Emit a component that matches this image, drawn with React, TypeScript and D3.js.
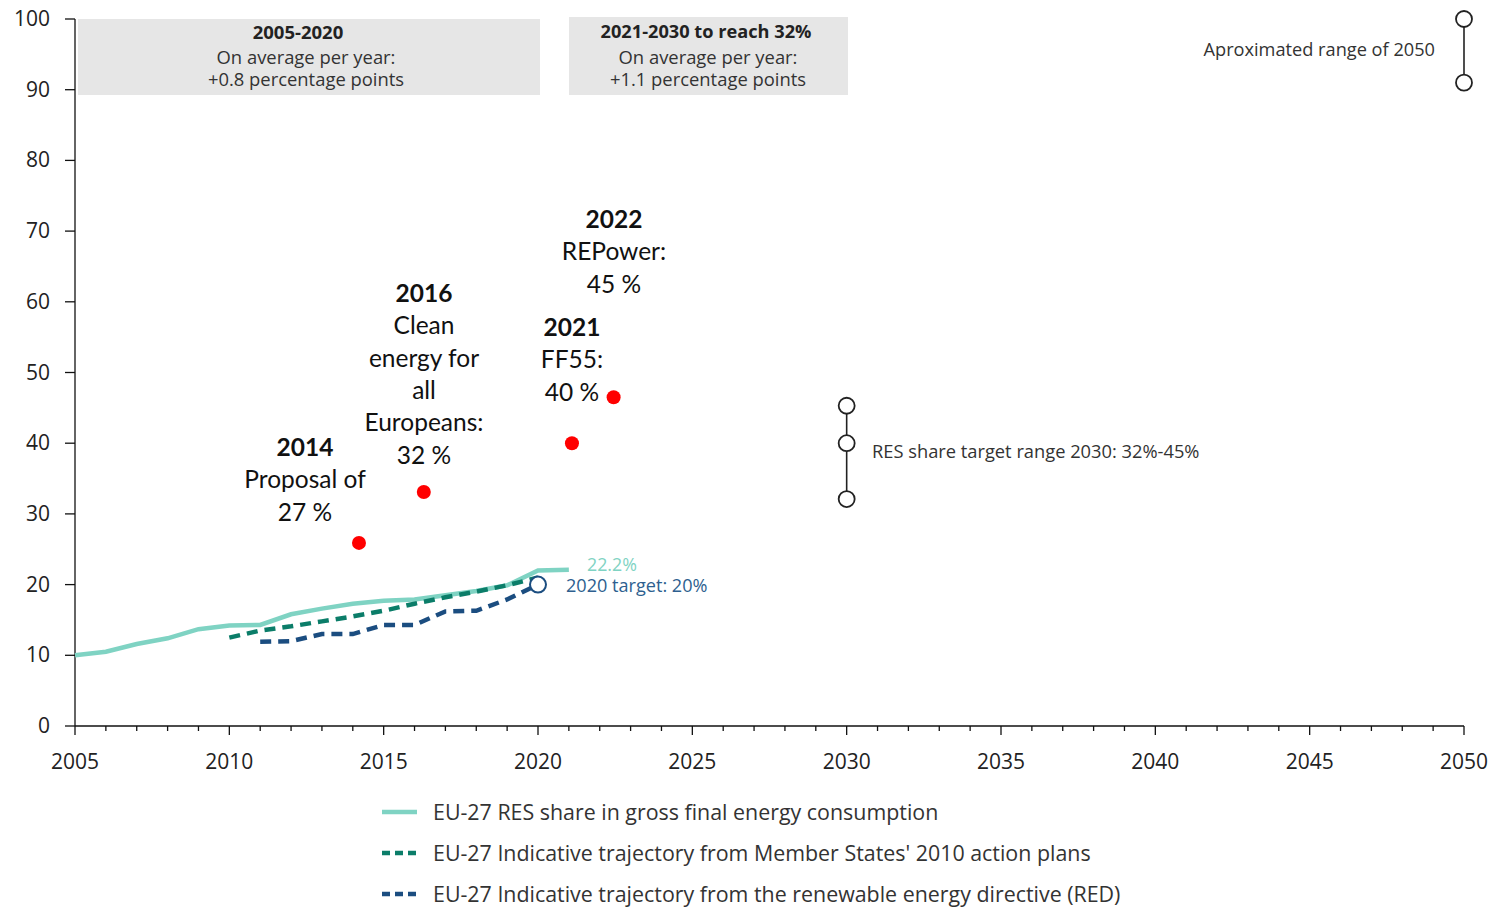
import React from "react";
import * as d3 from "d3";

const resYears = [2005, 2006, 2007, 2008, 2009, 2010, 2011, 2012, 2013, 2014, 2015, 2016, 2017, 2018, 2019, 2020, 2021];
const resShare = [10.0, 10.5, 11.6, 12.4, 13.7, 14.2, 14.3, 15.8, 16.6, 17.3, 17.7, 17.9, 18.5, 19.1, 19.9, 22.0, 22.1];

const nreapYears = [2010, 2011, 2012, 2013, 2014, 2015, 2016, 2017, 2018, 2019, 2020];
const nreapShare = [12.5, 13.5, 14.1, 14.8, 15.5, 16.3, 17.3, 18.2, 19.0, 19.9, 21.0];

const redYears = [2011, 2012, 2013, 2014, 2015, 2016, 2017, 2018, 2019, 2020];
const redShare = [11.9, 12.0, 13.0, 13.0, 14.3, 14.3, 16.2, 16.3, 17.9, 20.0];

const proposals = [
  { year: 2014.2, value: 25.9, lines: ["2014", "Proposal of", "27 %"] },
  { year: 2016.3, value: 33.1, lines: ["2016", "Clean", "energy for", "all", "Europeans:", "32 %"] },
  { year: 2021.1, value: 40.0, lines: ["2021", "FF55:", "40 %"] },
  { year: 2022.45, value: 46.5, lines: ["2022", "REPower:", "45 %"] },
];

const range2030 = [45.3, 40.0, 32.1];
const range2050 = [100, 91];
const target2020 = 20;

const yTicks = [0, 10, 20, 30, 40, 50, 60, 70, 80, 90, 100];
const xMajor = [2005, 2010, 2015, 2020, 2025, 2030, 2035, 2040, 2045, 2050];

const legendItems = [
  { label: "EU-27 RES share in gross final energy consumption", kind: "res" },
  { label: "EU-27 Indicative trajectory from Member States' 2010 action plans", kind: "nreap" },
  { label: "EU-27 Indicative trajectory from the renewable energy directive (RED)", kind: "red" },
];

const C_RES = "#7fd3c3";
const C_NREAP = "#0b7d69";
const C_RED = "#1b4d80";
const C_DOT = "#ff0000";
const C_TEXT = "#222";
const C_GRAY = "#333";

export default function App() {
  const x = d3.scaleLinear().domain([2005, 2050]).range([75, 1464]);
  const y = d3.scaleLinear().domain([0, 100]).range([726, 19]);
  const line = d3.line<[number, number]>().x((d) => x(d[0])).y((d) => y(d[1]));

  const resPath = line(resYears.map((yr, i) => [yr, resShare[i]]))!;
  const nreapPath = line(nreapYears.map((yr, i) => [yr, nreapShare[i]]))!;
  const redPath = line(redYears.map((yr, i) => [yr, redShare[i]]))!;

  const minorYears = d3.range(2005, 2051);
  const font = "'Open Sans', sans-serif";
  const annFont = "Lato, 'Open Sans', sans-serif";

  return (
    <svg width={1495} height={907} style={{ position: "absolute", left: 0, top: 0, background: "#fff" }} fontFamily={font}>
      {/* header boxes */}
      <rect x={78} y={19} width={462} height={76} fill="#e6e6e6" />
      <text x={298} y={39} textAnchor="middle" fontSize={18.5} fontWeight="bold" fill={C_TEXT}>2005-2020</text>
      <text x={306} y={64} textAnchor="middle" fontSize={18.4} fill={C_GRAY}>On average per year:</text>
      <text x={306} y={86} textAnchor="middle" fontSize={18.4} fill={C_GRAY}>+0.8 percentage points</text>

      <rect x={569} y={17} width={279} height={78} fill="#e6e6e6" />
      <text x={706} y={38} textAnchor="middle" fontSize={18.2} fontWeight="bold" fill={C_TEXT}>2021-2030 to reach 32%</text>
      <text x={708} y={64} textAnchor="middle" fontSize={18.4} fill={C_GRAY}>On average per year:</text>
      <text x={708} y={86} textAnchor="middle" fontSize={18.4} fill={C_GRAY}>+1.1 percentage points</text>

      {/* y axis */}
      <line x1={x(2005)} x2={x(2005)} y1={y(100)} y2={y(0)} stroke="#111" strokeWidth={1.3} />
      {yTicks.map((t) => (
        <g key={t}>
          <line x1={65} x2={75} y1={y(t)} y2={y(t)} stroke="#111" strokeWidth={1.3} />
          <text x={50} y={y(t) + 7} textAnchor="end" fontSize={21} fill={C_TEXT}>{t}</text>
        </g>
      ))}

      {/* x axis */}
      <line x1={x(2005)} x2={x(2050)} y1={y(0)} y2={y(0)} stroke="#111" strokeWidth={1.3} />
      {minorYears.map((yr) => (
        <line key={yr} x1={x(yr)} x2={x(yr)} y1={y(0)} y2={y(0) + (yr % 5 === 0 ? 9 : 5)} stroke="#111" strokeWidth={1.3} />
      ))}
      {xMajor.map((yr) => (
        <text key={yr} x={x(yr)} y={769} textAnchor="middle" fontSize={21} fill={C_TEXT}>{yr}</text>
      ))}

      {/* lines */}
      <path d={resPath} fill="none" stroke={C_RES} strokeWidth={4.5} />
      <path d={nreapPath} fill="none" stroke={C_NREAP} strokeWidth={4.5} strokeDasharray="11 7" />
      <path d={redPath} fill="none" stroke={C_RED} strokeWidth={4.5} strokeDasharray="11 7" />

      {/* 2020 target circle */}
      <circle cx={x(2020)} cy={y(target2020)} r={8} fill="#fff" stroke={C_RED} strokeWidth={2} />
      <text x={587} y={571} fontSize={17.8} fill={C_RES}>22.2%</text>
      <text x={566} y={592} fontSize={18.1} fill="#2e5f8f">2020 target: 20%</text>

      {/* red dots + annotations */}
      {proposals.map((p) => (
        <g key={p.lines[0]}>
          <circle cx={x(p.year)} cy={y(p.value)} r={7} fill={C_DOT} />
        </g>
      ))}
      {proposals.map((p, i) => {
        const cx = [305, 424, 572, 614][i];
        const top = [447, 293, 327, 219][i];
        return (
          <text key={"t" + i} textAnchor="middle" fontFamily={annFont} fontSize={24.5} fill="#111">
            {p.lines.map((l, j) => (
              <tspan key={j} x={cx} y={top + 9 + j * 32.3} fontWeight={j === 0 ? "bold" : "normal"}>{l}</tspan>
            ))}
          </text>
        );
      })}

      {/* 2030 range */}
      <line x1={x(2030)} x2={x(2030)} y1={y(range2030[0])} y2={y(range2030[2])} stroke="#222" strokeWidth={1.6} />
      {range2030.map((v, i) => (
        <circle key={i} cx={x(2030)} cy={y(v)} r={8} fill="#fff" stroke="#222" strokeWidth={1.8} />
      ))}
      <text x={872} y={458} fontSize={18.3} fill={C_GRAY}>RES share target range 2030: 32%-45%</text>

      {/* 2050 range */}
      <line x1={x(2050)} x2={x(2050)} y1={y(range2050[0])} y2={y(range2050[1])} stroke="#222" strokeWidth={1.6} />
      {range2050.map((v, i) => (
        <circle key={i} cx={x(2050)} cy={y(v)} r={8} fill="#fff" stroke="#222" strokeWidth={1.8} />
      ))}
      <text x={1435} y={56} textAnchor="end" fontSize={18.2} fill={C_GRAY}>Aproximated range of 2050</text>

      {/* legend */}
      {legendItems.map((it, i) => {
        const ly = 812 + i * 41;
        const color = it.kind === "res" ? C_RES : it.kind === "nreap" ? C_NREAP : C_RED;
        return (
          <g key={it.kind}>
            <line x1={382} x2={417} y1={ly} y2={ly} stroke={color} strokeWidth={4.5}
              strokeDasharray={it.kind === "res" ? undefined : "8 5"} />
            <text x={433} y={ly + 7.5} fontSize={21.4} fill={C_GRAY}>{it.label}</text>
          </g>
        );
      })}
    </svg>
  );
}
